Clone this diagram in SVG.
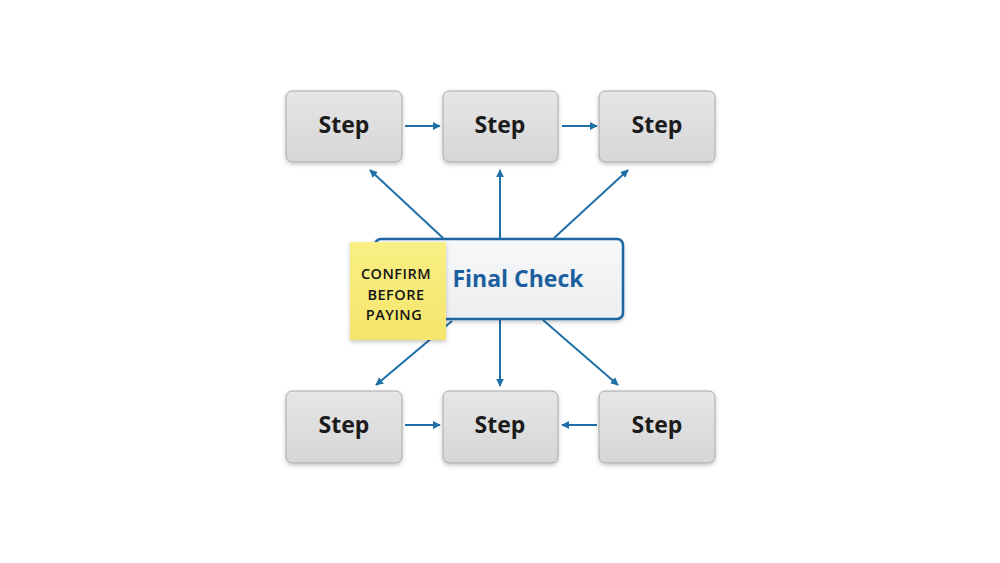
<svg xmlns="http://www.w3.org/2000/svg" width="1000" height="563" viewBox="0 0 1000 563">
  <defs>
    <linearGradient id="stepFill" x1="0" y1="0" x2="0" y2="1">
      <stop offset="0" stop-color="#e6e6e6"/>
      <stop offset="1" stop-color="#d6d6d6"/>
    </linearGradient>
    <linearGradient id="finalFill" x1="0" y1="0" x2="0" y2="1">
      <stop offset="0" stop-color="#f7f8f9"/>
      <stop offset="1" stop-color="#eceef0"/>
    </linearGradient>
    <linearGradient id="noteFill" x1="0" y1="0" x2="0" y2="1">
      <stop offset="0" stop-color="#f9ef84"/>
      <stop offset="1" stop-color="#f5e56c"/>
    </linearGradient>
    <filter id="shadow" x="-20%" y="-20%" width="140%" height="150%">
      <feDropShadow dx="0" dy="2" stdDeviation="2" flood-color="#000" flood-opacity="0.22"/>
    </filter>
    <marker id="arrow" viewBox="0 0 10 10" refX="9" refY="5" markerWidth="8" markerHeight="8" markerUnits="userSpaceOnUse" orient="auto">
      <path d="M0,0 L10,5 L0,10 z" fill="#1f6fa8"/>
    </marker>
    <style>
      .step rect { fill: url(#stepFill); stroke: #a8a8a8; stroke-width: 1; filter: url(#shadow); }
      .step text { font-family: "Open Sans", "Noto Sans", sans-serif; font-weight: 700; font-size: 23px; fill: #1b1b1b; text-anchor: middle; }
      .conn line { stroke: #1f6fa8; stroke-width: 2; marker-end: url(#arrow); }
      .note text { font-family: "Open Sans", "Noto Sans", sans-serif; font-size: 14.5px; font-weight: 600; letter-spacing: 0.5px; fill: #141414; text-anchor: middle; }
    </style>
  </defs>
  <rect width="1000" height="563" fill="#ffffff"/>

  <g id="connectors" class="conn">
    <line x1="405" y1="126" x2="440" y2="126"/>
    <line x1="562" y1="126" x2="597" y2="126"/>
    <line x1="405" y1="425" x2="440" y2="425"/>
    <line x1="597" y1="425" x2="562" y2="425"/>
    <line x1="443" y1="238" x2="370" y2="170"/>
    <line x1="500" y1="238" x2="500" y2="170"/>
    <line x1="554" y1="238" x2="628" y2="170"/>
    <line x1="452" y1="321" x2="376" y2="385"/>
    <line x1="500" y1="320" x2="500" y2="386"/>
    <line x1="543" y1="320" x2="618" y2="385"/>
  </g>

  <g id="step-top-1" class="step">
    <rect x="286" y="91" width="116" height="71" rx="6"/>
    <text x="344" y="133">Step</text>
  </g>
  <g id="step-top-2" class="step">
    <rect x="443" y="91" width="115" height="71" rx="6"/>
    <text x="500" y="133">Step</text>
  </g>
  <g id="step-top-3" class="step">
    <rect x="599" y="91" width="116" height="71" rx="6"/>
    <text x="657" y="133">Step</text>
  </g>
  <g id="step-bottom-1" class="step">
    <rect x="286" y="391" width="116" height="72" rx="6"/>
    <text x="344" y="433">Step</text>
  </g>
  <g id="step-bottom-2" class="step">
    <rect x="443" y="391" width="115" height="72" rx="6"/>
    <text x="500" y="433">Step</text>
  </g>
  <g id="step-bottom-3" class="step">
    <rect x="599" y="391" width="116" height="72" rx="6"/>
    <text x="657" y="433">Step</text>
  </g>

  <g id="final-check">
    <rect x="375" y="239" width="248" height="80" rx="6" fill="url(#finalFill)" stroke="#1d66a4" stroke-width="2.5" filter="url(#shadow)"/>
    <text x="518" y="287" font-family="Open Sans, Noto Sans, sans-serif" font-weight="700" font-size="23" fill="#1c5f9e" text-anchor="middle">Final Check</text>
  </g>

  <g id="sticky-note" class="note">
    <rect x="350" y="242" width="96" height="98" fill="url(#noteFill)" filter="url(#shadow)"/>
    <text x="396" y="279">CONFIRM</text>
    <text x="396" y="299.5">BEFORE</text>
    <text x="394" y="320">PAYING</text>
  </g>
</svg>
